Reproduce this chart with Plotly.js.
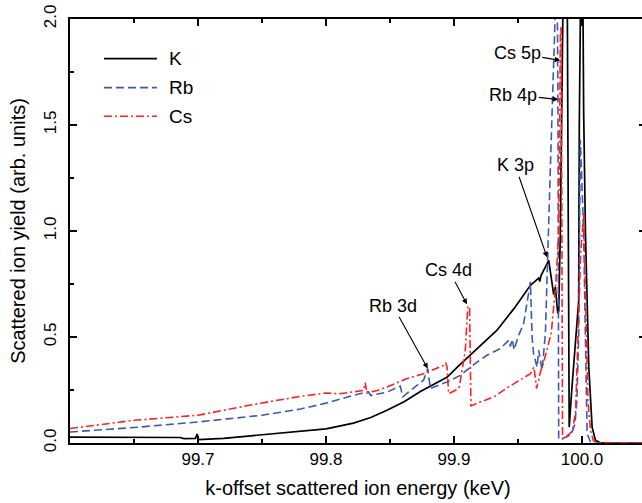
<!DOCTYPE html>
<html>
<head>
<meta charset="utf-8">
<script src="https://cdn.plot.ly/plotly-3.0.1.min.js"></script>
<style>
html,body{margin:0;padding:0;overflow:hidden;background:#fff;}
#chart{width:648px;height:503px;}
</style>
</head>
<body>
<div id="chart"></div>
<script>
// ---- data ----
const K_x = [99.600,99.640,99.670,99.686,99.689,99.698,99.6993,99.7005,99.720,99.750,99.780,99.800,99.8215,99.835,99.8476,99.861,99.8737,99.884,99.8945,99.903,99.9127,99.923,99.9336,99.947,99.9597,99.9650,99.9662,99.9670,99.9680,99.9740,99.9766,99.9779,99.9792,99.9810,99.9818,99.9831,99.9850,99.9870,99.9885,99.9893,99.9900,99.9920,99.9945,99.9974,99.9979,99.9982,99.9995,100.0006,100.0009,100.0013,100.0027,100.0053,100.0079,100.0105,100.0140,100.0200,100.0500];
const K_y = [0.028,0.028,0.027,0.026,0.021,0.022,0.042,0.016,0.022,0.038,0.055,0.067,0.094,0.120,0.154,0.195,0.243,0.276,0.310,0.360,0.415,0.470,0.532,0.635,0.744,0.772,0.778,0.762,0.790,0.862,0.736,0.700,0.736,0.612,0.620,1.000,2.000,2.600,2.100,1.000,0.075,0.250,0.450,0.670,1.500,2.200,2.500,2.200,1.640,1.560,0.990,0.360,0.075,0.013,0.002,0.000,0.000];

const Rb_x = [99.600,99.650,99.700,99.750,99.780,99.800,99.8215,99.8330,99.8350,99.8476,99.8580,99.8600,99.8665,99.8762,99.8795,99.8815,99.8945,99.9049,99.9180,99.9258,99.9360,99.9427,99.9440,99.9455,99.9470,99.9500,99.9544,99.9580,99.9597,99.9610,99.9622,99.9649,99.9662,99.9688,99.9701,99.9714,99.9753,99.9792,99.9805,99.9812,99.9818,99.9850,99.9890,99.9918,99.9945,99.9960,99.9974,99.9987,100.0013,100.0026,100.0040,100.0066,100.0100,100.0500];
const Rb_y = [0.052,0.073,0.099,0.131,0.160,0.188,0.225,0.242,0.224,0.240,0.268,0.218,0.250,0.296,0.351,0.257,0.288,0.319,0.382,0.414,0.445,0.484,0.455,0.490,0.440,0.500,0.563,0.700,0.760,0.500,0.420,0.358,0.437,0.343,0.420,0.516,1.300,2.050,2.300,1.600,0.020,0.022,0.032,0.044,0.090,0.200,0.500,1.430,0.990,0.520,0.045,0.005,0.000,0.000];

const Cs_x = [99.600,99.650,99.700,99.750,99.780,99.800,99.810,99.8215,99.8295,99.8306,99.8320,99.8400,99.8476,99.8633,99.8762,99.8919,99.8935,99.8945,99.8958,99.9000,99.9040,99.9088,99.9108,99.9122,99.9132,99.9200,99.9310,99.9420,99.9518,99.9597,99.9625,99.9645,99.9675,99.9700,99.9725,99.9760,99.9795,99.9818,99.9831,99.9837,99.9843,99.9848,99.9870,99.9900,99.9925,99.9950,99.9970,99.9990,100.0013,100.0028,100.0046,100.0066,100.0090,100.0120,100.0500];
const Cs_y = [0.068,0.107,0.131,0.189,0.220,0.236,0.232,0.241,0.248,0.285,0.236,0.248,0.264,0.304,0.327,0.366,0.378,0.360,0.233,0.245,0.260,0.435,0.645,0.640,0.175,0.192,0.217,0.262,0.296,0.327,0.358,0.257,0.335,0.380,0.437,0.520,0.750,0.990,1.930,1.965,1.000,0.020,0.026,0.040,0.055,0.150,0.500,0.900,1.080,0.670,0.200,0.060,0.010,0.002,0.000];

const seriesNames = ["K","Rb","Cs"];
const xTickVals = [99.7,99.8,99.9,100.0];
const xTickText = ["99.7","99.8","99.9","100.0"];
const xMinorVals = [99.65,99.75,99.85,99.95,100.05];
const yTickVals = [0,0.5,1.0,1.5,2.0];
const yTickText = ["0.0","0.5","1.0","1.5","2.0"];
const yMinorVals = [0.25,0.75,1.25,1.75];

// labelled features: [text, x, y, ax, ay]
const peakLabels = [
  ["Cs 5p", 99.9830, 1.805, -43, -7],
  ["Rb 4p", 99.9815, 1.620, -45, -5],
  ["K 3p", 99.9727, 0.876, -32, -92],
  ["Cs 4d", 99.9101, 0.654, -18, -34],
  ["Rb 3d", 99.8795, 0.351, -35, -63]
];

// ---- styling ----
const colors = {K:"#000000", Rb:"#3b5bb0", Cs:"#ff2020"};
const dashes = {K:"solid", Rb:"8px,4px", Cs:"8px,3px,2px,3px"};
const FONT = "Liberation Sans, Arial, Helvetica, sans-serif";

const traces = [
  {x:K_x, y:K_y, name:"K", mode:"lines", line:{color:colors.K, width:1.7, dash:dashes.K}},
  {x:Rb_x, y:Rb_y, name:"Rb", mode:"lines", line:{color:colors.Rb, width:1.6, dash:dashes.Rb}},
  {x:Cs_x, y:Cs_y, name:"Cs", mode:"lines", line:{color:colors.Cs, width:1.6, dash:dashes.Cs}}
];

// manual legend (long sample lines like the reference)
const legendShapes = [];
const legendAnn = [];
const legY = [0.9066, 0.8382, 0.7705];
seriesNames.forEach((n,i)=>{
  legendShapes.push({type:"line", xref:"paper", yref:"paper", x0:0.059, x1:0.151, y0:legY[i], y1:legY[i],
    line:{color:colors[n], width:1.6, dash:dashes[n]}});
  legendAnn.push({xref:"paper", yref:"paper", x:0.168, y:legY[i], xanchor:"left", yanchor:"middle",
    text:n, showarrow:false, font:{family:FONT, size:19, color:"#000"}});
});

const arrowAnn = peakLabels.map(p=>({
  x:p[1], y:p[2], xref:"x", yref:"y", text:p[0], showarrow:true, ax:p[3], ay:p[4],
  arrowhead:2, arrowsize:1, arrowwidth:1.1, arrowcolor:"#000", standoff:0,
  font:{family:FONT, size:18, color:"#000"}
}));

const layout = {
  width:648, height:503,
  margin:{l:70, r:2, t:19, b:60},
  paper_bgcolor:"#fff", plot_bgcolor:"#fff",
  showlegend:false,
  font:{family:FONT, color:"#000"},
  xaxis:{
    range:[99.6,100.05], showgrid:false, zeroline:false,
    showline:true, linecolor:"#000", linewidth:2, mirror:"ticks",
    ticks:"inside", ticklen:7, tickwidth:1.5, tickcolor:"#000",
    tickmode:"array", tickvals:xTickVals, ticktext:xTickText,
    minor:{tickmode:"array", tickvals:xMinorVals, ticks:"inside", ticklen:4, tickwidth:1.5, tickcolor:"#000", showgrid:false},
    tickfont:{family:FONT, size:17},
    title:{text:"k-offset scattered ion energy (keV)", font:{family:FONT, size:20}, standoff:13},
    automargin:false
  },
  yaxis:{
    range:[0,2], showgrid:false, zeroline:false,
    showline:true, linecolor:"#000", linewidth:2, mirror:"ticks",
    ticks:"inside", ticklen:7, tickwidth:1.5, tickcolor:"#000",
    tickmode:"array", tickvals:yTickVals, ticktext:yTickText, tickangle:-90,
    ticklabelstandoff:5,
    minor:{tickmode:"array", tickvals:yMinorVals, ticks:"inside", ticklen:4, tickwidth:1.5, tickcolor:"#000", showgrid:false},
    tickfont:{family:FONT, size:17},
    title:{text:"Scattered ion yield (arb. units)", font:{family:FONT, size:20}, standoff:10},
    automargin:false
  },
  shapes:legendShapes,
  annotations:legendAnn.concat(arrowAnn)
};

Plotly.newPlot("chart", traces, layout, {staticPlot:true, displayModeBar:false});
</script>
</body>
</html>
